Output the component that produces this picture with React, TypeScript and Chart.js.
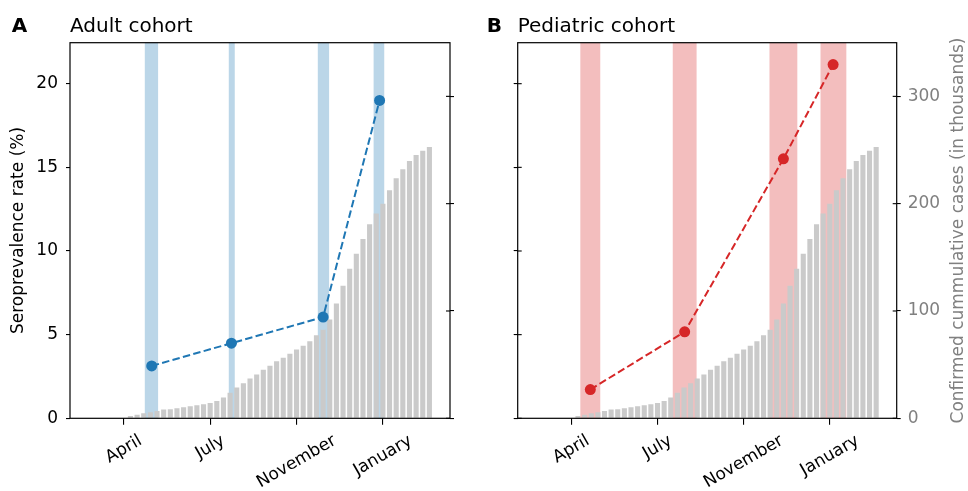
import React, { useEffect, useRef } from "react";
import { Chart, registerables } from "chart.js";

Chart.register(...registerables);
Chart.defaults.font.family = "'DejaVu Sans', sans-serif";

// ---- data ----
const weeks = [
  1, 2, 3, 4, 5, 6, 7, 8, 9, 10, 11, 12, 13, 14, 15, 16, 17, 18, 19, 20, 21, 22, 23,
  24, 25, 26, 27, 28, 29, 30, 31, 32, 33, 34, 35, 36, 37, 38, 39, 40, 41, 42, 43, 44,
  45, 46,
];
// confirmed cumulative cases (thousands)
const cases = [
  2.2, 3.4, 4.7, 5.6, 6.8, 8.1, 8.4, 9.3, 10.3, 11.2, 12.1, 13.1, 14.3, 16.2, 19.3,
  23.7, 28.6, 32.7, 37.0, 40.9, 45.3, 49.0, 53.1, 56.5, 60.2, 64.0, 67.7, 71.7, 77.3,
  82.6, 92.0, 106.9, 123.5, 139.4, 153.4, 167.1, 180.8, 190.8, 199.9, 212.4, 223.6,
  232.0, 239.8, 245.4, 249.4, 252.9,
];
const monthTicks = [0, 13, 26, 39];
const monthLabels = ["April", "July", "November", "January"];
const rateTicks = [0, 5, 10, 15, 20];
const caseTicks = [0, 100, 200, 300];

const adultWeeks = [4.2, 16.2, 30.0, 38.5];
const adultRates = [3.13, 4.49, 6.05, 19.0];
const pediatricWeeks = [2.86, 17.1, 32.0, 39.5];
const pediatricRates = [1.72, 5.17, 15.51, 21.14];

const adultSpanStart = [3.16, 15.8, 29.2, 37.6];
const adultSpanEnd = [5.16, 16.7, 30.9, 39.2];
const pediatricSpanStart = [1.35, 15.3, 29.9, 37.6];
const pediatricSpanEnd = [4.36, 18.9, 34.1, 41.5];

const Y_TITLE = "Seroprevalence rate (%)";
const Y2_TITLE = "Confirmed cummulative cases (in thousands)";

type Panel = {
  letter: string;
  title: string;
  color: string;
  spanColor: string;
  xs: number[];
  ys: number[];
  spanStart: number[];
  spanEnd: number[];
  left: number;
  leftWidth: number;
  rightWidth: number;
  letterX: number;
  leftLabels: boolean;
  rightLabels: boolean;
  inTicks: string[];
  yTitle: boolean;
  y2Title: boolean;
};

const panels: Panel[] = [
  {
    letter: "A",
    title: "Adult cohort",
    color: "#1f77b4",
    spanColor: "rgba(31,119,180,0.3)",
    xs: adultWeeks,
    ys: adultRates,
    spanStart: adultSpanStart,
    spanEnd: adultSpanEnd,
    left: 0,
    leftWidth: 70,
    rightWidth: 34,
    letterX: 11.7,
    leftLabels: true,
    rightLabels: false,
    inTicks: ["y2"],
    yTitle: true,
    y2Title: false,
  },
  {
    letter: "B",
    title: "Pediatric cohort",
    color: "#d62728",
    spanColor: "rgba(214,39,40,0.3)",
    xs: pediatricWeeks,
    ys: pediatricRates,
    spanStart: pediatricSpanStart,
    spanEnd: pediatricSpanEnd,
    left: 484,
    leftWidth: 33.7,
    rightWidth: 71.3,
    letterX: 2.7,
    leftLabels: false,
    rightLabels: true,
    inTicks: ["y", "y2"],
    yTitle: false,
    y2Title: true,
  },
];

const decorPlugin = {
  id: "panelDecor",
  beforeDatasetsDraw(chart: any, _args: any, opts: any) {
    const { ctx, chartArea: a, scales } = chart;
    ctx.save();
    ctx.fillStyle = opts.spanColor;
    const starts: number[] = opts.spanStart;
    const ends: number[] = opts.spanEnd;
    starts.forEach((s, i) => {
      const x1 = scales.x.getPixelForValue(s);
      const x2 = scales.x.getPixelForValue(ends[i]);
      ctx.fillRect(x1, a.top, x2 - x1, a.bottom - a.top);
    });
    ctx.restore();
  },
  afterDraw(chart: any, _args: any, opts: any) {
    const { ctx, chartArea: a, scales } = chart;
    ctx.save();
    // frame
    ctx.strokeStyle = "#000";
    ctx.lineWidth = 1.2;
    ctx.strokeRect(a.left, a.top, a.right - a.left, a.bottom - a.top);
    // inward tick parts
    ctx.lineWidth = 1.1;
    const inAxes: string[] = opts.inTicks;
    inAxes.forEach((id) => {
      const sc = scales[id];
      sc.ticks.forEach((t: any) => {
        const y = sc.getPixelForValue(t.value);
        ctx.beginPath();
        if (sc.position === "left") {
          ctx.moveTo(a.left, y);
          ctx.lineTo(a.left + 4, y);
        } else {
          ctx.moveTo(a.right - 4, y);
          ctx.lineTo(a.right, y);
        }
        ctx.stroke();
      });
    });
    // x tick labels rotated, centred on tick
    ctx.fillStyle = "#000";
    ctx.font = "17px 'DejaVu Sans'";
    ctx.textAlign = "center";
    ctx.textBaseline = "middle";
    scales.x.ticks.forEach((t: any, i: number) => {
      const label = monthLabels[i];
      const x = scales.x.getPixelForValue(t.value);
      const w = ctx.measureText(label).width;
      const cy = a.bottom + 14 + (w / 2 + 14.7) / 2;
      ctx.save();
      ctx.translate(x, cy);
      ctx.rotate(-Math.PI / 6);
      ctx.fillText(label, 0, 0);
      ctx.restore();
    });
    // panel letter + title
    ctx.textAlign = "left";
    ctx.textBaseline = "alphabetic";
    ctx.font = "bold 20px 'DejaVu Sans'";
    ctx.fillText(opts.letter, opts.letterX, 31.7);
    ctx.font = "20px 'DejaVu Sans'";
    ctx.fillText(opts.title, a.left, 31.7);
    // axis titles
    const cyMid = (a.top + a.bottom) / 2;
    ctx.font = "17px 'DejaVu Sans'";
    ctx.textAlign = "center";
    if (opts.yTitle) {
      ctx.save();
      ctx.translate(23, cyMid);
      ctx.rotate(-Math.PI / 2);
      ctx.fillStyle = "#000";
      ctx.fillText(Y_TITLE, 0, 0);
      ctx.restore();
    }
    if (opts.y2Title) {
      ctx.save();
      ctx.translate(479.3, cyMid);
      ctx.rotate(-Math.PI / 2);
      ctx.fillStyle = "#808080";
      ctx.fillText(Y2_TITLE, 0, 0);
      ctx.restore();
    }
    ctx.restore();
  },
};

function PanelChart({ p }: { p: Panel }) {
  const ref = useRef<HTMLCanvasElement>(null);
  useEffect(() => {
    const gridOpts = {
      drawOnChartArea: false,
      drawTicks: true,
      tickLength: 4,
      color: "#000",
      lineWidth: 1.1,
    };
    const chart = new Chart(ref.current as HTMLCanvasElement, {
      type: "bar",
      data: {
        datasets: [
          {
            type: "line",
            label: p.title,
            data: p.xs.map((x, i) => ({ x, y: p.ys[i] })),
            yAxisID: "y",
            xAxisID: "x",
            borderColor: p.color,
            backgroundColor: p.color,
            borderWidth: 2,
            borderDash: [7.5, 3.3],
            pointRadius: 5.5,
            pointHoverRadius: 5.5,
            pointBorderWidth: 0,
            pointBackgroundColor: p.color,
            tension: 0,
            order: 0,
          } as any,
          {
            type: "bar",
            label: "cases",
            data: weeks.map((w, i) => ({ x: w, y: cases[i] })),
            yAxisID: "y2",
            xAxisID: "x",
            backgroundColor: "#cacaca",
            barPercentage: 0.77,
            categoryPercentage: 1,
            order: 1,
          } as any,
        ],
      },
      options: {
        responsive: false,
        animation: false,
        events: [],
        layout: { padding: { top: 42.7, left: 0, right: 0, bottom: 0 } },
        plugins: {
          legend: { display: false },
          tooltip: { enabled: false },
          panelDecor: {
            spanColor: p.spanColor,
            spanStart: p.spanStart,
            spanEnd: p.spanEnd,
            inTicks: p.inTicks,
            letter: p.letter,
            letterX: p.letterX,
            title: p.title,
            yTitle: p.yTitle,
            y2Title: p.y2Title,
          },
        } as any,
        scales: {
          x: {
            type: "linear",
            min: -8.1,
            max: 49.1,
            offset: false,
            afterBuildTicks: (s: any) => {
              s.ticks = monthTicks.map((v) => ({ value: v }));
            },
            afterFit: (s: any) => {
              s.height = 72.7;
            },
            ticks: { display: false },
            grid: { ...gridOpts, tickLength: 6.5, offset: false },
            border: { display: false },
          },
          y: {
            type: "linear",
            position: "left",
            min: 0,
            max: 22.45,
            afterBuildTicks: (s: any) => {
              s.ticks = rateTicks.map((v) => ({ value: v }));
            },
            afterFit: (s: any) => {
              s.width = p.leftWidth;
            },
            ticks: {
              display: p.leftLabels,
              font: { size: 17 },
              color: "#000",
              padding: 8,
            },
            grid: gridOpts,
            border: { display: false },
          },
          y2: {
            type: "linear",
            position: "right",
            min: 0,
            max: 350,
            afterBuildTicks: (s: any) => {
              s.ticks = caseTicks.map((v) => ({ value: v }));
            },
            afterFit: (s: any) => {
              s.width = p.rightWidth;
            },
            ticks: {
              display: p.rightLabels,
              font: { size: 17 },
              color: "#808080",
              padding: 7,
            },
            grid: gridOpts,
            border: { display: false },
          },
        },
      } as any,
      plugins: [decorPlugin as any],
    });
    return () => chart.destroy();
  }, [p]);
  return (
    <canvas
      ref={ref}
      width={484}
      height={491}
      style={{ position: "absolute", left: p.left, top: 0, width: 484, height: 491 }}
    />
  );
}

export default function App() {
  return (
    <div
      style={{
        position: "fixed",
        left: 0,
        top: 0,
        width: 968,
        height: 491,
        background: "#fff",
        overflow: "hidden",
      }}
    >
      {panels.map((p) => (
        <PanelChart key={p.letter} p={p} />
      ))}
    </div>
  );
}
